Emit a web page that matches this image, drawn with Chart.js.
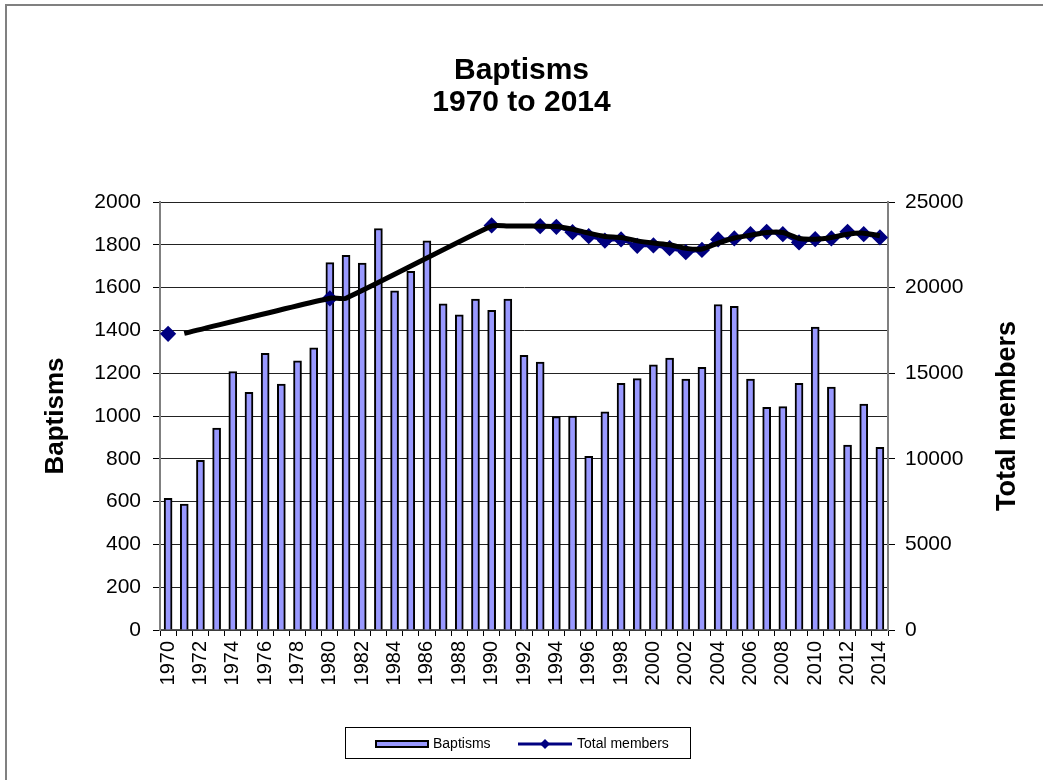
<!DOCTYPE html>
<html>
<head>
<meta charset="utf-8">
<script src="https://cdn.jsdelivr.net/npm/chart.js@4.4.1/dist/chart.umd.min.js"></script>
<style>
  html, body { margin: 0; padding: 0; background: #fff; overflow: hidden; }
  #wrap { position: relative; width: 1043px; height: 780px; }
</style>
</head>
<body>
<div id="wrap"><canvas id="chart"></canvas></div>
<script>
const years = ['1970', '1971', '1972', '1973', '1974', '1975', '1976', '1977', '1978', '1979',
  '1980', '1981', '1982', '1983', '1984', '1985', '1986', '1987', '1988', '1989',
  '1990', '1991', '1992', '1993', '1994', '1995', '1996', '1997', '1998', '1999',
  '2000', '2001', '2002', '2003', '2004', '2005', '2006', '2007', '2008', '2009',
  '2010', '2011', '2012', '2013', '2014'];

const baptisms = [615, 588, 793, 944, 1208, 1111, 1293, 1149, 1258, 1318,
  1717, 1751, 1714, 1876, 1585, 1676, 1818, 1524, 1473, 1546,
  1494, 1546, 1283, 1252, 997, 1000, 812, 1020, 1153, 1175,
  1239, 1271, 1172, 1228, 1521, 1513, 1172, 1041, 1044, 1153,
  1415, 1135, 864, 1056, 854];

// membership was only recorded every ten years before 1993
const totalMembers = [17300, null, null, null, null, null, null, null, null, null,
  19370, null, null, null, null, null, null, null, null, null,
  23630, null, null, 23590, 23550, 23240, 23000, 22750, 22810, 22440,
  22460, 22300, 22070, 22200, 22810, 22870, 23120, 23260, 23120, 22640,
  22830, 22870, 23260, 23120, 22930];

// black trend line as drawn over the members series
const membersTrend = [null, 17330, null, null, null, null, null, null, null, null,
  19380, 19380, null, null, null, null, null, null, null, null,
  23600, 23600, 23600, 23590, 23570, 23410, 23180, 22990, 22930, 22730,
  22600, 22500, 22290, 22250, 22600, 22900, 23060, 23220, 23220, 22870,
  22830, 22930, 23120, 23180, 23030];

const FONT = "'Liberation Sans', Arial, sans-serif";
const BAR_FILL = '#9999ff';
const NAVY = '#000080';

const extras = {
  id: 'extras',
  beforeDraw(chart) {
    const ctx = chart.ctx;
    ctx.save();
    ctx.fillStyle = '#fff';
    ctx.fillRect(0, 0, chart.width, chart.height);
    ctx.strokeStyle = '#808080';
    ctx.lineWidth = 2;
    ctx.beginPath();
    ctx.moveTo(6, chart.height);
    ctx.lineTo(6, 5);
    ctx.lineTo(chart.width, 5);
    ctx.stroke();
    ctx.restore();
  },
  afterDraw(chart) {
    const ctx = chart.ctx;
    const area = chart.chartArea;
    ctx.save();

    // right axis title, reads bottom to top like the left one
    ctx.translate(1008, (area.top + area.bottom) / 2);
    ctx.rotate(-Math.PI / 2);
    ctx.font = 'bold 27px ' + FONT;
    ctx.fillStyle = '#000';
    ctx.textAlign = 'center';
    ctx.textBaseline = 'middle';
    ctx.fillText('Total members', 0, 0);
    ctx.setTransform(1, 0, 0, 1, 0, 0);

    // legend box
    const lx = 345, ly = 727, lw = 345, lh = 31, cy = ly + 17;
    ctx.strokeStyle = '#000';
    ctx.lineWidth = 1;
    ctx.strokeRect(lx + 0.5, ly + 0.5, lw, lh);

    ctx.fillStyle = BAR_FILL;
    ctx.fillRect(376, cy - 3, 52, 6);
    ctx.lineWidth = 2;
    ctx.strokeRect(376, cy - 3, 52, 6);

    ctx.strokeStyle = NAVY;
    ctx.lineWidth = 3;
    ctx.beginPath();
    ctx.moveTo(518, cy);
    ctx.lineTo(572, cy);
    ctx.stroke();
    ctx.fillStyle = NAVY;
    ctx.beginPath();
    ctx.moveTo(545, cy - 5);
    ctx.lineTo(550, cy);
    ctx.lineTo(545, cy + 5);
    ctx.lineTo(540, cy);
    ctx.closePath();
    ctx.fill();

    ctx.font = '14px ' + FONT;
    ctx.fillStyle = '#000';
    ctx.textAlign = 'left';
    ctx.textBaseline = 'middle';
    ctx.fillText('Baptisms', 433, cy);
    ctx.fillText('Total members', 577, cy);
    ctx.restore();
  }
};

new Chart(document.getElementById('chart'), {
  type: 'bar',
  data: {
    labels: years,
    datasets: [
      {
        type: 'line',
        label: 'trend',
        data: membersTrend,
        yAxisID: 'y1',
        borderColor: '#000',
        borderWidth: 5,
        pointRadius: 0,
        spanGaps: true,
        tension: 0.2,
        order: 0
      },
      {
        type: 'line',
        label: 'Total members',
        data: totalMembers,
        yAxisID: 'y1',
        borderColor: NAVY,
        borderWidth: 3,
        pointStyle: 'rectRot',
        pointRadius: 6,
        pointBackgroundColor: NAVY,
        pointBorderColor: NAVY,
        spanGaps: false,
        order: 1
      },
      {
        label: 'Baptisms',
        data: baptisms,
        yAxisID: 'y',
        backgroundColor: BAR_FILL,
        borderColor: '#000',
        borderWidth: 2,
        borderSkipped: 'bottom',
        barThickness: 8,
        order: 2
      }
    ]
  },
  options: {
    responsive: true,
    maintainAspectRatio: false,
    devicePixelRatio: 1,
    animation: false,
    layout: { padding: 0 },
    plugins: {
      legend: { display: false },
      tooltip: { enabled: false },
      title: {
        display: true,
        text: ['Baptisms', '1970 to 2014'],
        color: '#000',
        font: { family: FONT, size: 30, weight: 'bold', lineHeight: 1.05 },
        padding: { top: 55, bottom: 84 }
      }
    },
    scales: {
      x: {
        offset: true,
        afterFit: s => { s.height = 150; },
        grid: { offset: true, drawOnChartArea: false, drawTicks: true, tickLength: 6, color: '#000' },
        border: { color: '#555', width: 1.5 },
        ticks: {
          autoSkip: false,
          minRotation: 90,
          maxRotation: 90,
          padding: 5,
          color: '#000',
          font: { family: FONT, size: 20 },
          callback: (v, i) => (i % 2 === 0 ? years[i] : '')
        }
      },
      y: {
        position: 'left',
        min: 0,
        max: 2000,
        afterFit: s => { s.width = 160; },
        grid: { color: '#222', lineWidth: 1, tickLength: 7, tickColor: '#000' },
        border: { color: '#808080', width: 2 },
        ticks: {
          stepSize: 200,
          padding: 12,
          color: '#000',
          font: { family: FONT, size: 21 },
          callback: v => String(v)
        },
        title: {
          display: true,
          text: 'Baptisms',
          color: '#000',
          font: { family: FONT, size: 26, weight: 'bold', lineHeight: 1.2 },
          padding: { top: 40, bottom: 0 }
        }
      },
      y1: {
        position: 'right',
        min: 0,
        max: 25000,
        afterFit: s => { s.width = 155; },
        grid: { drawOnChartArea: false, tickLength: 7, color: '#000' },
        border: { color: '#808080', width: 2 },
        ticks: {
          stepSize: 5000,
          padding: 10,
          color: '#000',
          font: { family: FONT, size: 21 },
          callback: v => String(v)
        }
      }
    }
  },
  plugins: [extras]
});
</script>
</body>
</html>
